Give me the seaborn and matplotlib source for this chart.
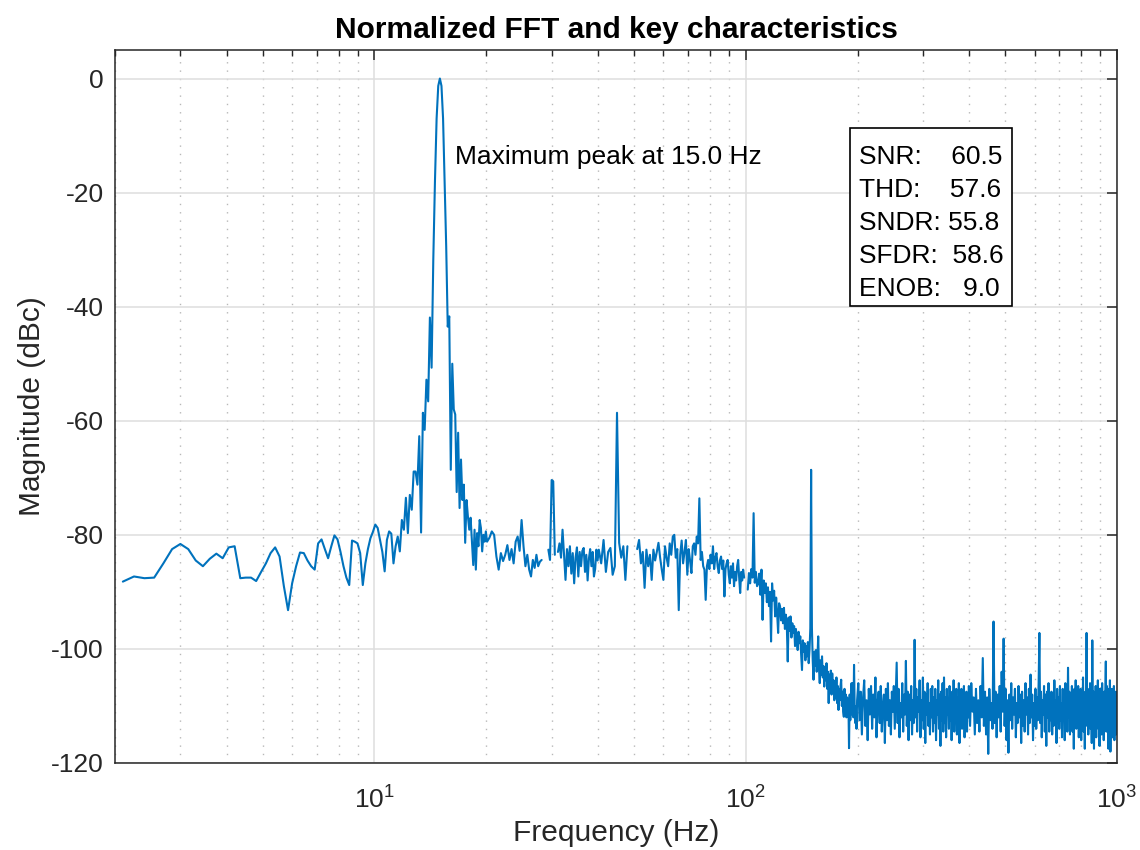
import numpy as np
import pandas as pd
import matplotlib
matplotlib.use("Agg")
import matplotlib.pyplot as plt
import seaborn as sns
from matplotlib.patches import Rectangle
from matplotlib.ticker import LogLocator, NullFormatter, FixedLocator, LogFormatterSciNotation

# ---------------- data ----------------
# FFT bins, 2.10 .. 19.95 Hz every 0.15 Hz  (magnitude in dBc)
low_start, low_step = 2.10, 0.15
low_db = [
    -88.2, -87.3, -87.6, -87.5, -85.0, -82.5, -81.6, -82.5, -84.5, -85.5,
    -84.2, -83.3, -84.1, -82.2, -82.0, -87.6, -87.5, -87.5, -88.1, -86.5,
    -85.0, -83.2, -82.2, -83.8, -89.0, -93.2, -88.5, -85.5, -83.1, -83.2,
    -84.5, -85.5, -86.1, -81.5, -80.8, -82.5, -84.1, -82.0, -80.1, -80.8,
    -83.0, -85.5, -87.5, -88.8, -81.0, -81.2, -81.5, -83.2, -88.8, -85.0,
    -82.5, -80.6, -79.5, -78.2, -78.8, -80.9, -83.0, -86.4, -80.9, -79.4,
    -79.8, -85.0, -82.0, -80.3, -82.9, -77.4, -79.1, -73.5, -79.7, -73.0,
    -75.6, -68.9, -68.9, -71.2, -62.7, -79.6, -58.6, -61.6, -52.8, -56.6,
    -41.9, -50.7, -31.8, -18.0, -7.0, -1.3, 0.0, -1.3, -7.0, -18.0,
    -29.4, -43.5, -41.7, -68.6, -50.0, -58.0, -58.9, -72.5, -62.1, -75.3,
    -66.8, -73.9, -71.2, -81.4, -73.9, -76.8, -79.1, -77.0, -81.0, -85.3,
    -79.1, -86.1, -79.7, -82.0, -77.4, -78.8, -82.9, -80.0, -81.2, -79.4,
]
# 20.1 .. 39.9 Hz every 0.3 Hz (nan = bins not drawn)
mid1_start, mid1_step = 20.1, 0.3
mid1_db = [
    -81.2, -80.5, -79.4, -80.0, -83.8, -86.1, -83.2, -84.6, -83.5, -81.8,
    -84.4, -82.5, -85.0, -81.2, -80.3, -82.8, -77.4, -82.0, -85.5, -83.5,
    -86.1, -87.3, -84.4, -85.8, -83.5, -85.5, -84.7, -84.4, np.nan, np.nan,
    np.nan, -82.6, -84.4, -70.4, -70.6, -83.5, np.nan, -83.0, -81.5, -84.0,
    -79.1, -83.5, -87.9, -82.5, -85.5, -82.0, -86.8, -83.2, -88.5, -84.0,
    -82.2, -87.3, -83.0, -85.5, -82.8, -82.3, -86.5, -83.5, -88.0, -84.2,
    -82.5, -85.5, -83.0, -87.3, -86.0, -82.6, -84.5,
]
# 40.2 .. 99.0 Hz every 0.6 Hz
mid2_start, mid2_step = 40.2, 0.6
mid2_db = [
    -82.6, -85.0, -80.9, -86.5, -83.0, -82.3, -87.0, -85.5, -58.6, -81.4,
    -84.0, -82.0, -87.9, -82.0, np.nan, np.nan, np.nan, np.nan, -82.5, -80.9,
    -85.0, -83.0, -89.3, -82.6, -85.5, -83.5, -87.9, -82.6, -84.5, -83.0,
    -81.4, -84.0, -86.1, -87.9, -82.0, -84.0, -85.5, -81.5, -83.5, -80.3,
    -80.0, -84.0, -82.5, -93.2, -83.5, -81.0, -85.0, -83.0, -80.9, -87.0,
    -82.5, -84.5, -86.7, -82.0, -81.5, -83.5, -80.3, -81.5, -73.6, -84.4,
    -83.0, -85.5, -86.1, -91.4, -85.5, -84.4, -86.0, -83.5, -85.0, -82.0,
    -86.0, -84.0, -83.2, -85.5, -86.7, -84.5, -83.8, -86.0, -84.5, -90.8,
    -86.0, -85.0, -84.4, -87.0, -88.5, -85.5, -87.5, -85.0, -89.0, -86.5,
    -88.0, -85.5, -84.4, -87.5, -90.2, -86.5, -88.0, -86.1, -87.5,
]
# 101.25 .. 199.5 Hz every 0.75 Hz
roll_start, roll_step = 101.25, 0.75
roll_db = [
    -89.6, -86.7, -88.5, -86.0, -87.5, -76.2, -88.4, -86.5, -89.0, -88.5,
    -86.8, -90.5, -86.1, -94.9, -88.0, -90.2, -88.5, -91.8, -89.2, -92.5,
    -90.0, -98.7, -88.5, -91.5, -89.8, -94.3, -91.0, -93.8, -97.2, -92.0,
    -92.6, -95.0, -93.0, -95.5, -92.8, -96.5, -94.0, -95.8, -102.2, -94.5,
    -96.8, -94.3, -98.0, -95.5, -97.2, -96.0, -99.5, -96.5, -98.5, -100.2,
    -97.0, -99.0, -97.8, -101.0, -103.7, -98.5, -100.5, -99.0, -102.0, -99.5,
    -101.3, -98.8, -102.5, -100.2, -96.4, -68.6, -96.4, -102.0, -105.4, -100.5,
    -103.0, -100.2, -104.0, -101.5, -97.8, -103.5, -106.0, -102.0, -104.5, -101.3,
    -105.0, -103.0, -106.6, -103.5, -105.5, -102.5, -107.0, -104.0, -109.5, -104.5,
    -106.5, -103.8, -108.0, -104.3, -107.5, -105.5, -109.0, -106.0, -108.5, -105.0,
    -109.5, -106.5, -110.7, -107.0, -109.0, -106.5, -105.4, -110.0, -107.5, -111.0,
    -111.9, -107.0, -110.5, -108.0, -112.0, -108.5, -111.5, -109.0, -117.4, -108.0,
    -112.5, -109.5, -106.0, -111.5, -106.0, -112.0, -102.8, -110.0, -113.0, -110.1,
    -114.0, -109.0,
]
# 201 .. 399 Hz every 1.5 Hz
floor1_start, floor1_step = 201.0, 1.5
floor1_db = [
    -106.0, -112.5, -107.5, -115.0, -108.5, -105.5, -113.5, -109.0, -116.0, -107.0,
    -111.5, -106.5, -114.0, -108.0, -112.0, -105.0, -115.5, -109.5, -107.5, -113.0,
    -106.5, -114.5, -110.0, -108.0, -116.5, -107.0, -112.5, -106.0, -113.5, -109.0,
    -115.0, -107.5, -111.0, -106.5, -114.0, -108.5, -102.4, -113.0, -107.0, -115.5,
    -109.5, -112.0, -106.0, -114.5, -108.0, -111.5, -102.1, -113.5, -107.5, -116.0,
    -108.0, -112.5, -106.5, -115.0, -109.0, -113.0, -98.4, -112.0, -107.0, -114.5,
    -108.5, -111.0, -105.5, -115.5, -109.0, -112.5, -105.0, -114.0, -107.5, -116.5,
    -108.0, -111.5, -106.0, -113.5, -109.5, -115.0, -107.0, -112.0, -106.5, -114.5,
    -108.5, -113.0, -107.0, -116.0, -109.0, -111.5, -105.5, -114.0, -108.0, -117.0,
    -107.5, -112.5, -106.0, -114.5, -105.0, -113.0, -108.5, -115.5, -107.0, -111.5,
    -109.0, -114.0, -106.5, -112.5, -108.0, -116.0, -107.5, -113.5, -105.5, -114.5,
    -109.5, -112.0, -107.0, -115.0, -108.5, -113.5, -106.0, -116.5, -109.0, -112.5,
    -107.0, -114.0, -108.5, -111.5, -106.5, -115.5, -109.0, -113.0, -107.5, -114.5,
    -108.0, -112.0, -106.5,
]
# 402 .. 999 Hz every 3 Hz
floor2_start, floor2_step = 402.0, 3.0
floor2_db = [
    -113.5, -106.0, -111.0, -108.5, -115.0, -107.0, -113.0, -109.0,
    -114.5, -106.5, -112.0, -101.6, -113.5, -107.5, -115.0, -108.5, -118.4, -107.0, -112.5, -109.5, -114.0, -95.2, -113.0,
    -107.5, -115.5, -108.0, -112.0, -106.5, -114.5, -104.0, -111.0, -98.2, -113.5, -107.0, -116.0, -109.0, -118.2, -108.0,
    -112.5, -106.0, -114.0, -108.5, -111.5, -107.0, -115.5, -109.5, -113.0, -106.5, -112.0, -108.0, -116.5, -107.5, -113.5,
    -109.0, -114.5, -106.0, -111.5, -108.5, -115.0, -107.0, -113.0, -104.5, -112.0, -108.0, -116.0, -109.5, -113.5, -107.0,
    -114.0, -108.5, -112.5, -106.0, -97.2, -113.0, -107.5, -115.5, -109.0, -111.5, -106.5, -114.5, -108.0, -117.0, -107.5,
    -112.0, -106.0, -114.5, -109.0, -112.5, -107.5, -115.0, -108.0, -113.5, -105.5, -111.0, -109.0, -116.5, -107.0, -113.0,
    -108.5, -114.0, -106.5, -112.5, -109.5, -115.5, -107.0, -111.5, -108.0, -116.0, -106.0, -113.5, -109.0, -114.5, -103.3,
    -112.0, -107.5, -115.0, -108.5, -113.0, -106.5, -114.5, -109.0, -117.5, -107.0, -112.5, -105.5, -114.0, -108.0, -113.5,
    -106.5, -115.5, -109.0, -112.0, -107.0, -116.0, -108.5, -113.0, -105.0, -114.5, -109.5, -117.5, -107.5, -112.5, -97.2,
    -113.5, -107.0, -115.0, -109.0, -111.5, -106.0, -114.0, -108.5, -116.5, -98.5, -112.0, -107.5, -117.5, -109.0, -113.0,
    -106.5, -115.5, -108.0, -112.5, -105.5, -114.0, -109.5, -117.0, -107.0, -113.5, -108.5, -115.0, -106.0, -112.0, -109.0,
    -116.0, -107.5, -113.0, -108.0, -102.2, -114.5, -106.5, -112.5, -109.5, -117.5, -107.0, -113.5, -105.5, -118.0, -108.5,
    -112.0, -107.0, -115.5, -109.0, -113.0, -106.5, -116.0, -108.0, -112.5, -107.5, -115.0, -109.5,
]

peak_freq = 15.0
stat_names = ["SNR", "THD", "SNDR", "SFDR", "ENOB"]
stat_values = [60.5, 57.6, 55.8, 58.6, 9.0]
stat_gaps = [4, 4, 1, 2, 3]   # spaces between label and value, as in the box

x_limits = (2, 1000)
y_limits = (-120, 5)
y_ticks = [-120, -100, -80, -60, -40, -20, 0]

# ---------------- assemble the spectrum ----------------
segments = [
    (low_start, low_step, low_db),
    (mid1_start, mid1_step, mid1_db),
    (mid2_start, mid2_step, mid2_db),
    None,  # gap around 100 Hz
    (roll_start, roll_step, roll_db),
    (floor1_start, floor1_step, floor1_db),
    (floor2_start, floor2_step, floor2_db),
]
freqs, mags = [], []
for seg in segments:
    if seg is None:
        freqs.append(np.array([np.nan]))
        mags.append(np.array([np.nan]))
        continue
    start, step, vals = seg
    vals = np.asarray(vals, dtype=float)
    freqs.append(start + step * np.arange(len(vals)))
    mags.append(vals)
freq = np.concatenate(freqs)
mag = np.concatenate(mags)
df = pd.DataFrame({"Frequency": freq, "Magnitude": mag})
df["piece"] = df["Magnitude"].isna().cumsum()
df = df.dropna().reset_index(drop=True)

# ---------------- style ----------------
sns.set_theme(style="white")
dark = "#262626"
plt.rcParams.update({
    "font.family": ["Liberation Sans", "DejaVu Sans"],
    "mathtext.fontset": "custom",
    "mathtext.rm": "Liberation Sans",
    "mathtext.it": "Liberation Sans:italic",
    "mathtext.bf": "Liberation Sans:bold",
    "axes.unicode_minus": False,
    "axes.edgecolor": dark,
    "axes.linewidth": 1.1,
    "text.color": "black",
})

W, H = 1140, 850
L, R, T, B = 115, 1117, 50, 763
fig = plt.figure(figsize=(W / 100, H / 100), dpi=100)
ax = fig.add_axes([L / W, 1 - B / H, (R - L) / W, (B - T) / H])

sns.lineplot(data=df, x="Frequency", y="Magnitude", units="piece", estimator=None,
             sort=False, color="#0072BD", linewidth=1.5, ax=ax)

ax.set_xscale("log")
ax.set_xlim(*x_limits)
ax.set_ylim(*y_limits)
ax.set_yticks(y_ticks)
ax.xaxis.set_major_locator(FixedLocator([10, 100, 1000]))
ax.xaxis.set_major_formatter(LogFormatterSciNotation())
ax.xaxis.set_minor_locator(LogLocator(base=10, subs=np.arange(2, 10), numticks=20))
ax.xaxis.set_minor_formatter(NullFormatter())

ax.set_axisbelow(True)
ax.grid(which="major", axis="both", color="#dedede", linewidth=1.1, linestyle="-")
ax.xaxis.grid(which="minor", color="#b8b8b8", linewidth=1.0, linestyle=(0, (1, 5)))

for sp in ax.spines.values():
    sp.set_visible(True)
    sp.set_color(dark)
    sp.set_linewidth(1.1)

ax.tick_params(which="both", direction="in", top=True, right=True, color=dark,
               labelcolor=dark, labelsize=19)
ax.tick_params(which="major", length=7.5, width=1.1)
ax.tick_params(which="minor", length=4.3, width=1.0)
ax.tick_params(axis="x", which="major", pad=16.5)
ax.tick_params(axis="y", which="major", pad=8)

ax.set_xlabel("Frequency (Hz)", fontsize=21.5, color=dark, labelpad=4.5)
ax.set_ylabel("Magnitude (dBc)", fontsize=21.5, color=dark, labelpad=4)
ax.set_title("Normalized FFT and key characteristics", fontsize=21.5,
             fontweight="bold", color="black", pad=9)

ax.text(16.5, -13.8, f"Maximum peak at {peak_freq:.1f} Hz", fontsize=19,
        ha="left", va="center", color="black")

# statistics box
box_l, box_t, box_r, box_b = 850, 128, 1012, 306
ax.add_patch(Rectangle(((box_l - L) / (R - L), (B - box_b) / (B - T)),
                       (box_r - box_l) / (R - L), (box_b - box_t) / (B - T),
                       transform=ax.transAxes, facecolor="white", edgecolor="black",
                       linewidth=1.2, zorder=4))
stats_text = "\n".join(f"{n}:{' ' * g}{v:.1f}" for n, g, v in zip(stat_names, stat_gaps, stat_values))
ax.text((859 - L) / (R - L), (B - 145) / (B - T), stats_text, transform=ax.transAxes,
        fontsize=19, ha="left", va="top", color="black", linespacing=1.47, zorder=5)

fig.savefig("out.png", dpi=100)
